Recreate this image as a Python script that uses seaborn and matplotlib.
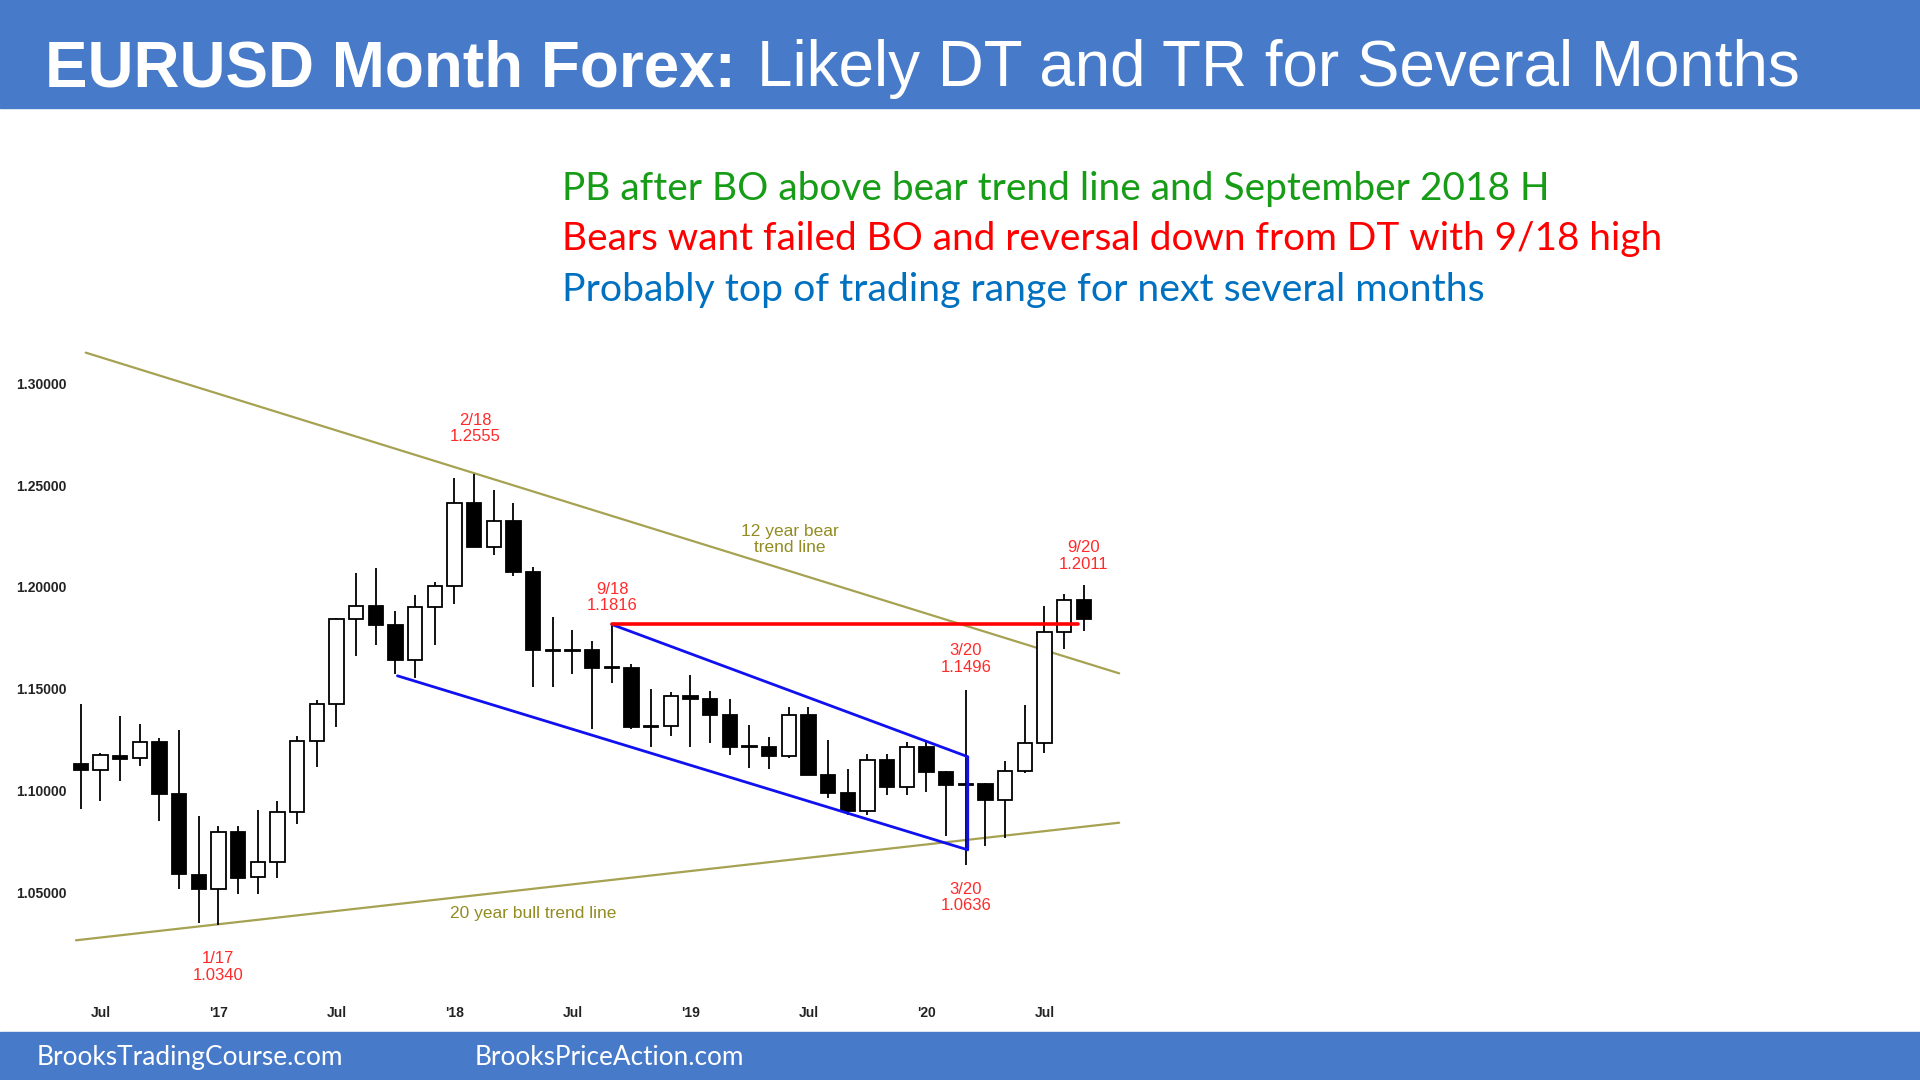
import numpy as np
import pandas as pd
import matplotlib
matplotlib.use("Agg")
import matplotlib.pyplot as plt
import seaborn as sns
from matplotlib import font_manager

# Monthly EURUSD candles, Jun 2016 .. Sep 2020
months = ["2016-06", "2016-07", "2016-08", "2016-09", "2016-10", "2016-11", "2016-12",
          "2017-01", "2017-02", "2017-03", "2017-04", "2017-05", "2017-06", "2017-07",
          "2017-08", "2017-09", "2017-10", "2017-11", "2017-12", "2018-01", "2018-02",
          "2018-03", "2018-04", "2018-05", "2018-06", "2018-07", "2018-08", "2018-09",
          "2018-10", "2018-11", "2018-12", "2019-01", "2019-02", "2019-03", "2019-04",
          "2019-05", "2019-06", "2019-07", "2019-08", "2019-09", "2019-10", "2019-11",
          "2019-12", "2020-01", "2020-02", "2020-03", "2020-04", "2020-05", "2020-06",
          "2020-07", "2020-08", "2020-09"]
opens = [1.1130, 1.1104, 1.1172, 1.1159, 1.1239, 1.0982, 1.0588, 1.0516, 1.0798, 1.0575,
         1.0651, 1.0895, 1.1244, 1.1425, 1.1842, 1.1906, 1.1813, 1.1644, 1.1904, 1.2005,
         1.2414, 1.2194, 1.2324, 1.2075, 1.1693, 1.1684, 1.1690, 1.1600, 1.1604, 1.1312,
         1.1318, 1.1466, 1.1448, 1.1371, 1.1217, 1.1214, 1.1169, 1.1372, 1.1076, 1.0987,
         1.0899, 1.1152, 1.1016, 1.1213, 1.1094, 1.1027, 1.1031, 1.0955, 1.1098, 1.1234,
         1.1778, 1.1936]
highs = [1.1428, 1.1186, 1.1366, 1.1327, 1.1259, 1.1299, 1.0874, 1.0829, 1.0828, 1.0906,
         1.0951, 1.1268, 1.1446, 1.1846, 1.2070, 1.2092, 1.1880, 1.1961, 1.2023, 1.2537,
         1.2555, 1.2476, 1.2414, 1.2097, 1.1852, 1.1791, 1.1734, 1.1816, 1.1622, 1.1500,
         1.1486, 1.1570, 1.1489, 1.1448, 1.1324, 1.1265, 1.1412, 1.1413, 1.1250, 1.1109,
         1.1180, 1.1179, 1.1240, 1.1240, 1.1097, 1.1496, 1.1040, 1.1147, 1.1422, 1.1908,
         1.1966, 1.2011]
lows = [1.0912, 1.0952, 1.1046, 1.1122, 1.0852, 1.0518, 1.0352, 1.0340, 1.0494, 1.0493,
        1.0570, 1.0839, 1.1118, 1.1313, 1.1662, 1.1717, 1.1574, 1.1554, 1.1717, 1.1915,
        1.2206, 1.2155, 1.2055, 1.1510, 1.1508, 1.1574, 1.1301, 1.1528, 1.1302, 1.1216,
        1.1269, 1.1215, 1.1234, 1.1176, 1.1110, 1.1107, 1.1160, 1.1101, 1.0963, 1.0879,
        1.0879, 1.0981, 1.0981, 1.0992, 1.0778, 1.0636, 1.0727, 1.0767, 1.1087, 1.1186,
        1.1695, 1.1785]
closes = [1.1103, 1.1175, 1.1157, 1.1240, 1.0982, 1.0589, 1.0517, 1.0797, 1.0574, 1.0652,
          1.0895, 1.1244, 1.1425, 1.1842, 1.1906, 1.1813, 1.1644, 1.1904, 1.2005, 1.2414,
          1.2194, 1.2324, 1.2075, 1.1693, 1.1684, 1.1690, 1.1600, 1.1604, 1.1312, 1.1318,
          1.1466, 1.1448, 1.1371, 1.1217, 1.1214, 1.1169, 1.1372, 1.1076, 1.0987, 1.0899,
          1.1152, 1.1016, 1.1213, 1.1094, 1.1027, 1.1031, 1.0955, 1.1098, 1.1234, 1.1778,
          1.1936, 1.1843]

x_tick_pos = [1, 7, 13, 19, 25, 31, 37, 43, 49]
x_tick_labels = ["Jul", "'17", "Jul", "'18", "Jul", "'19", "Jul", "'20", "Jul"]
y_ticks = [1.05, 1.10, 1.15, 1.20, 1.25, 1.30]

# trend lines (month index, price)
bear_line_x = [0.25, 52.8]
bear_line_y = [1.3150, 1.1576]
bull_line_x = [-0.25, 52.8]
bull_line_y = [1.0266, 1.0843]
channel_x = [27.0, 45.1, 45.1, 16.1]
channel_y = [1.1816, 1.1167, 1.0710, 1.1564]
dt_line_x = [27.0, 50.7]
dt_line_y = [1.1816, 1.1816]

# (label, x, y)
red_notes = [("2/18\n1.2555", 20.05, 1.2778), ("9/18\n1.1816", 27.02, 1.1948),
             ("9/20\n1.2011", 51.0, 1.2153), ("3/20\n1.1496", 45.0, 1.1648),
             ("3/20\n1.0636", 45.0, 1.0476), ("1/17\n1.0340", 6.97, 1.0133)]
olive_notes = [("12 year bear\ntrend line", 36.05, 1.2231),
               ("20 year bull trend line", 22.98, 1.0398)]

HEADER_BLUE = "#477BC9"
OLIVE_LINE = "#A6A252"
OLIVE_TEXT = "#928C22"
NOTE_RED = "#FF2A2A"


def has_font(name):
    try:
        font_manager.findfont(font_manager.FontProperties(family=name), fallback_to_default=False)
        return True
    except ValueError:
        return False


sns.set_theme(style="white")
plt.rcParams['font.family'] = ['Liberation Sans', 'DejaVu Sans']
title_font = 'Liberation Sans Narrow' if has_font('Liberation Sans Narrow') else 'Liberation Sans'
body_font = 'Lato' if has_font('Lato') else 'Liberation Sans'

df = pd.DataFrame({"month": months, "open": opens, "high": highs, "low": lows, "close": closes})
df["x"] = np.arange(len(df))
up = df["close"] >= df["open"]

fig = plt.figure(figsize=(19.2, 10.8), dpi=100)
ax = fig.add_axes([0.03827, 0.07596, 0.5995 - 0.03827, 0.68254 - 0.07596])

# trend lines
sns.lineplot(x=bear_line_x, y=bear_line_y, ax=ax, color=OLIVE_LINE, linewidth=1.6,
             estimator=None, sort=False)
sns.lineplot(x=bull_line_x, y=bull_line_y, ax=ax, color=OLIVE_LINE, linewidth=1.6,
             estimator=None, sort=False)
ax.plot(channel_x, channel_y, color="#1010F0", linewidth=2.0, zorder=4)
ax.plot(dt_line_x, dt_line_y, color="#FF0000", linewidth=2.6, zorder=4)

# candles
ax.vlines(df["x"], df["low"], df["high"], color="black", linewidth=1.3, zorder=2)
body_low = df[["open", "close"]].min(axis=1)
body_h = (df["close"] - df["open"]).abs().clip(lower=0.0007)
ax.bar(df["x"], body_h, bottom=body_low, width=0.72,
       color=np.where(up, "white", "black"), edgecolor="black", linewidth=1.3, zorder=3)

for txt, x, y in red_notes:
    ax.text(x, y, txt, color=NOTE_RED, fontsize=12, ha="center", va="center",
            linespacing=1.15, zorder=5)
for txt, x, y in olive_notes:
    ax.text(x, y, txt, color=OLIVE_TEXT, fontsize=12.5, ha="center", va="center",
            linespacing=1.1, zorder=5)

ax.set_xlim(-0.374, 54.42)
ax.set_ylim(0.9983, 1.3198)
ax.set_xticks(x_tick_pos)
ax.set_xticklabels(x_tick_labels)
ax.set_yticks(y_ticks)
ax.set_yticklabels([f"{v:.5f}" for v in y_ticks])
ax.tick_params(axis="both", length=0, labelsize=10, colors="#222222")
ax.tick_params(axis="y", pad=5)
ax.tick_params(axis="x", pad=6)
for lab in ax.get_xticklabels() + ax.get_yticklabels():
    lab.set_fontweight("bold")
for sp in ax.spines.values():
    sp.set_visible(False)
ax.set_xlabel("")
ax.set_ylabel("")
ax.grid(False)

# header and footer bars
fig.patches.append(plt.Rectangle((0, 0.9), 1, 0.1, transform=fig.transFigure,
                                 color=HEADER_BLUE, zorder=0))
fig.patches.append(plt.Rectangle((0, 0), 1, 0.0444, transform=fig.transFigure,
                                 color=HEADER_BLUE, zorder=0))

t1 = fig.text(0.0236, 0.920, "EURUSD Month Forex:", color="white", fontsize=46,
              fontweight="bold", family=title_font, va="baseline")
t2 = fig.text(0.3943, 0.920, "Likely DT and TR for Several Months", color="white",
              fontsize=46, family=title_font, va="baseline")
g1 = fig.text(0.2927, 0.8152, "PB after BO above bear trend line and September 2018 H",
              color="#179C17", fontsize=28, family=body_font, va="baseline")
g2 = fig.text(0.2927, 0.7687, "Bears want failed BO and reversal down from DT with 9/18 high",
              color="#FF0000", fontsize=28, family=body_font, va="baseline")
g3 = fig.text(0.2927, 0.7211, "Probably top of trading range for next several months",
              color="#0070C0", fontsize=28, family=body_font, va="baseline")
f1 = fig.text(0.0191, 0.0139, "BrooksTradingCourse.com", color="white", fontsize=18,
              family=body_font, va="baseline")
f2 = fig.text(0.2474, 0.0139, "BrooksPriceAction.com", color="white", fontsize=18,
              family=body_font, va="baseline")

# scale the big texts so their widths match the slide
targets = [(t1, 690), (t2, 1043), (g1, 986), (g2, 1098), (g3, 926), (f1, 305), (f2, 268)]
renderer = fig.canvas.get_renderer()
for t, w_target in targets:
    w = t.get_window_extent(renderer).width
    t.set_fontsize(t.get_fontsize() * w_target / w)

fig.savefig("out.png", dpi=100, facecolor="white")
